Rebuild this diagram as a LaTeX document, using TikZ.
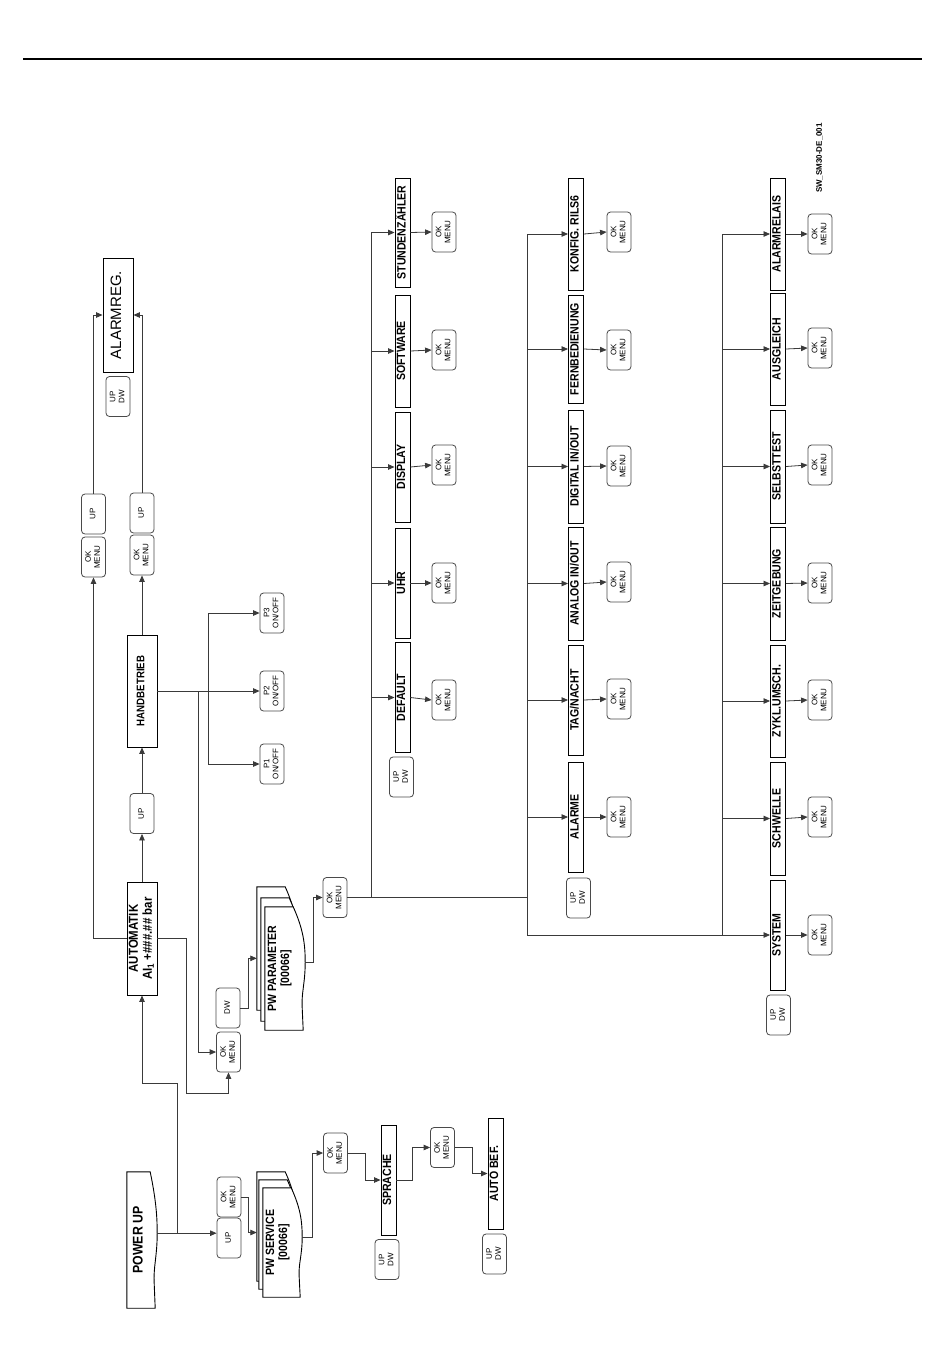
\documentclass[tikz,border=0pt]{standalone}
\usepackage{fontspec}
\setmainfont{Liberation Sans}
\newfontfamily\condfont{Liberation Sans}[FakeStretch=0.88]
\usepackage{tikz}
\usetikzlibrary{positioning,arrows.meta,calc,backgrounds}
\definecolor{cLine}{HTML}{3A3A3A}
\definecolor{cKey}{HTML}{4A4A4A}
\newcommand\rt[1]{\rotatebox{90}{\begin{tabular}{@{}c@{}}#1\end{tabular}}}
% Dokument-Form: rechte Kante gewellt, #1 Knoten, #2 Auswoelbung
\newcommand\docpath[2]{%
  \path[doc-line] (#1.north west) -- ($(#1.north east)+(-2,0)$)
    .. controls ($(#1.north east)!0.18!(#1.south east)+(#2-2,0)$) and ($(#1.north east)!0.3!(#1.south east)+(#2,0)$)
    .. ($(#1.north east)!0.45!(#1.south east)+(#2,0)$) coordinate (#1-out)
    .. controls ($(#1.north east)!0.62!(#1.south east)+(#2,0)$) and ($(#1.north east)!0.7!(#1.south east)+(#2-4,0)$)
    .. ($(#1.north east)!0.82!(#1.south east)+(#2-3,0)$)
    -- ($(#1.south east)+(#2-2,0)$) -- (#1.south west) -- cycle;}
% Einzelblatt hinter dem Text
\newcommand\docsingle[2]{%
  \begin{scope}[on background layer]\docpath{#1}{#2}\end{scope}}
% Stapel aus drei Blaettern
\newcommand\docstack[4]{%
  \begin{scope}[on background layer]
    \begin{scope}[transform canvas={shift={(#4)}}]\docpath{#1}{#2}\end{scope}
    \begin{scope}[transform canvas={shift={(#3)}}]\docpath{#1}{#2}\end{scope}
    \docpath{#1}{#2}
  \end{scope}}
\tikzset{
  node-menu/.style={draw=black,line width=0.9pt,minimum width=15pt,
    minimum height=110pt,inner sep=0pt,
    font=\condfont\bfseries\fontsize{12}{13}\selectfont},
  node-big/.style={node-menu,minimum width=30pt,minimum height=112pt},
  node-key/.style={draw=cKey,line width=0.8pt,rounded corners=3.5pt,
    minimum width=24pt,minimum height=40pt,inner sep=0pt,
    font=\fontsize{8}{9}\selectfont},
  node-doc/.style={inner sep=0pt,
    font=\condfont\bfseries\fontsize{12}{13}\selectfont},
  node-id/.style={inner sep=0pt,font=\bfseries\fontsize{8}{9}\selectfont},
  arrow/.style={-{Triangle[length=6.5pt,width=5.5pt]},line width=0.8pt,draw=cLine},
  link/.style={line width=0.8pt,draw=cLine},
  doc-line/.style={draw=black,line width=0.9pt,fill=white},
}

\begin{document}
\begin{tikzpicture}[x=1pt,y=-1pt]
  \useasboundingbox (0,0) rectangle (950,1369);
  \draw[line width=1.3pt] (23,59) -- (922,59);
  \node[node-id] (docid) at (820,158) {\rt{SW\_SM30-DE\_001}};

  % Einschalten
  \node[node-doc,minimum width=25pt,minimum height=136pt,
    font=\condfont\bfseries\fontsize{14}{15}\selectfont] (pwup) at (139.5,1240) {\rt{POWER UP}};
  \docsingle{pwup}{5}
  \node[node-key] (okPow) at (229,1197) {\rt{OK\\MENU}};
  \node[node-key] (upPow) at (229,1238) {\rt{UP}};
  \node[node-doc,minimum width=30pt,minimum height=109pt] (pwserv) at (278,1242.5) {\rt{PW SERVICE\\{[00066]}}};
  \docstack{pwserv}{9}{-4,-8}{-6,-16}
  \node[node-key] (okServ) at (335.5,1153) {\rt{OK\\MENU}};
  \node[node-menu] (sprache) at (388.5,1180) {\rt{SPRACHE}};
  \node[node-key] (udSpr) at (387,1259.5) {\rt{UP\\DW}};
  \node[node-key] (okSpr) at (442.5,1147.5) {\rt{OK\\MENU}};
  \node[node-menu,minimum height=111pt] (autobef) at (495.5,1173.5) {\rt{AUTO BEF.}};
  \node[node-key] (udAuto) at (494.5,1254) {\rt{UP\\DW}};

  % Automatik / Handbetrieb / Alarmreg.
  \node[node-big,minimum height=113pt,
    font=\condfont\bfseries\fontsize{13}{14}\selectfont] (automatik) at (142,938.5) {\rt{AUTOMATIK\\AI\textsubscript{1} +\#\#\#.\#\# bar}};
  \node[node-key] (upHand) at (142,813.5) {\rt{UP}};
  \node[node-big,font=\condfont\bfseries\fontsize{11}{12}\selectfont] (handbetr) at (142,691) {\rt{HANDBETRIEB}};
  \node[node-key] (okAlA) at (93.5,557) {\rt{OK\\MENU}};
  \node[node-key] (upAlA) at (93.5,514) {\rt{UP}};
  \node[node-key] (okAlB) at (142,555) {\rt{OK\\MENU}};
  \node[node-key] (upAlB) at (142,513) {\rt{UP}};
  \node[node-key] (udAlarm) at (118,396.5) {\rt{UP\\DW}};
  \node[node-big,minimum height=114pt,font=\fontsize{15}{16}\selectfont] (alarmreg) at (118,315) {\rt{ALARMREG.}};
  \node[node-key] (pOne) at (272,764) {\rt{P1\\ON/OFF}};
  \node[node-key] (pTwo) at (272,691) {\rt{P2\\ON/OFF}};
  \node[node-key] (pThree) at (272,613) {\rt{P3\\ON/OFF}};

  % Parameter
  \node[node-key] (dwPar) at (228,1008) {\rt{DW}};
  \node[node-key] (okPar) at (228.5,1052) {\rt{OK\\MENU}};
  \node[node-doc,minimum width=30pt,minimum height=123pt] (pwpar) at (280,968.5) {\rt{PW PARAMETER\\{[00066]}}};
  \docstack{pwpar}{10}{-4,-9}{-8,-20}
  \node[node-key] (okParam) at (335,897.5) {\rt{OK\\MENU}};

  % Spalte 1
  \node[node-menu,minimum height=109pt] (stu) at (402.5,232.5) {\rt{STUNDENZ\"AHLER}};
  \node[node-menu,minimum height=112pt] (soft) at (402.5,351) {\rt{SOFTWARE}};
  \node[node-menu] (disp) at (402.5,467) {\rt{DISPLAY}};
  \node[node-menu] (uhr) at (402.5,583) {\rt{UHR}};
  \node[node-menu] (defl) at (402.5,697.5) {\rt{DEFAULT}};
  \node[node-key] (udCol1) at (401.5,777) {\rt{UP\\DW}};
  \node[node-key] (okStu) at (444,232) {\rt{OK\\MENU}};
  \node[node-key] (okSoft) at (444,350) {\rt{OK\\MENU}};
  \node[node-key] (okDisp) at (444,465) {\rt{OK\\MENU}};
  \node[node-key] (okUhr) at (444,583) {\rt{OK\\MENU}};
  \node[node-key] (okDefl) at (444,700) {\rt{OK\\MENU}};

  % Spalte 2
  \node[node-menu,minimum height=112pt] (konf) at (576,234) {\rt{KONFIG. RILS6}};
  \node[node-menu,minimum height=108pt] (fern) at (576,349) {\rt{FERNBEDIENUNG}};
  \node[node-menu,minimum height=113pt] (digi) at (576,466.5) {\rt{DIGITAL IN/OUT}};
  \node[node-menu,minimum height=113pt] (ana) at (576,583.5) {\rt{ANALOG IN/OUT}};
  \node[node-menu] (tag) at (576,700) {\rt{TAG/NACHT}};
  \node[node-menu] (alm) at (576,817) {\rt{ALARME}};
  \node[node-key] (udCol2) at (578.5,898) {\rt{UP\\DW}};
  \node[node-key] (okKonf) at (619,232) {\rt{OK\\MENU}};
  \node[node-key] (okFern) at (619,350) {\rt{OK\\MENU}};
  \node[node-key] (okDigi) at (619,466) {\rt{OK\\MENU}};
  \node[node-key] (okAna) at (619,582) {\rt{OK\\MENU}};
  \node[node-key] (okTag) at (619,699) {\rt{OK\\MENU}};
  \node[node-key] (okAlm) at (619,817) {\rt{OK\\MENU}};

  % Spalte 3
  \node[node-menu,minimum height=112pt] (alrel) at (778,234) {\rt{ALARMRELAIS}};
  \node[node-menu,minimum height=112pt] (ausg) at (778,349) {\rt{AUSGLEICH}};
  \node[node-menu,minimum height=113pt] (selb) at (778,466.5) {\rt{SELBSTTEST}};
  \node[node-menu,minimum height=113pt] (zeit) at (778,583.5) {\rt{ZEITGEBUNG}};
  \node[node-menu,minimum height=112pt] (zykl) at (778,701) {\rt{ZYKL.UMSCH.}};
  \node[node-menu,minimum height=113pt] (schw) at (778,818.5) {\rt{SCHWELLE}};
  \node[node-menu] (sys) at (778,935) {\rt{SYSTEM}};
  \node[node-key] (udCol3) at (778.5,1015) {\rt{UP\\DW}};
  \node[node-key] (okAlrel) at (820,234) {\rt{OK\\MENU}};
  \node[node-key] (okAusg) at (820,348) {\rt{OK\\MENU}};
  \node[node-key] (okSelb) at (820,465) {\rt{OK\\MENU}};
  \node[node-key] (okZeit) at (820,583) {\rt{OK\\MENU}};
  \node[node-key] (okZykl) at (820,700) {\rt{OK\\MENU}};
  \node[node-key] (okSchw) at (820,817) {\rt{OK\\MENU}};
  \node[node-key] (okSys) at (820,935) {\rt{OK\\MENU}};

  % Verbindungen Einschalten
  \draw[arrow] (pwup-out) -- (pwup-out -| upPow.west);
  \draw[arrow] ($(pwup-out)+(20,0)$) -- ++(0,-150) -| (automatik.south);
  \draw[arrow] (okPow.east) -- ++(7,0) |- ([xshift=-6pt,yshift=10pt]pwserv.west);
  \draw[arrow] (pwserv-out) -- ++(10,0) |- (okServ.west);
  \draw[arrow] (okServ.east) -- ++(17,0) |- (sprache.west);
  \draw[arrow] (sprache.east) -- ++(16,0) |- (okSpr.west);
  \draw[arrow] (okSpr.east) -- ++(17,0) |- (autobef.west);

  % Verbindungen Automatik
  \draw[arrow] (automatik.west) -| (okAlA.south);
  \draw[arrow] (automatik.east) -- ++(29,0) -- ++(0,155) -| (okPar.south);
  \draw[arrow] (automatik.north) -- (upHand.south);
  \draw[arrow] (upHand.north) -- (handbetr.south);
  \draw[arrow] (handbetr.north) -- (okAlB.south);
  \draw[arrow] (upAlA.north) |- (alarmreg.west);
  \draw[arrow] (upAlB.north) |- (alarmreg.east);
  \draw[arrow] (handbetr.east) -- (pTwo.west);
  \draw[arrow] ($(handbetr.east)+(51,0)$) |- (pOne.west);
  \draw[arrow] ($(handbetr.east)+(51,0)$) |- (pThree.west);
  \draw[arrow] ($(handbetr.east)+(41,0)$) |- (okPar.west);

  % Verbindungen Parameter
  \draw[arrow] (dwPar.east) -- ++(8,0) |- ($(pwpar.west |- pwpar-out)+(-8,-4)$);
  \draw[arrow] (pwpar-out) -- ++(8,0) |- (okParam.west);
  \draw[link] (okParam.east) -- ++(180,0) coordinate (c2j);
  \coordinate (c1j) at ($(okParam.east)+(24,0)$);
  \coordinate (c3j) at ($(sys.west)+(-48,0)$);

  \draw[arrow] (c1j) |- (stu.west);
  \draw[arrow] (c1j |- soft.west) -- (soft.west);
  \draw[arrow] (c1j |- disp.west) -- (disp.west);
  \draw[arrow] (c1j |- uhr.west) -- (uhr.west);
  \draw[arrow] (c1j |- defl.west) -- (defl.west);

  \draw[arrow] (c2j) |- (konf.west);
  \draw[arrow] (c2j |- fern.west) -- (fern.west);
  \draw[arrow] (c2j |- digi.west) -- (digi.west);
  \draw[arrow] (c2j |- ana.west) -- (ana.west);
  \draw[arrow] (c2j |- tag.west) -- (tag.west);
  \draw[arrow] (c2j |- alm.west) -- (alm.west);
  \draw[arrow] (c2j) |- (sys.west);

  \draw[arrow] (c3j) |- (alrel.west);
  \draw[arrow] (c3j |- ausg.west) -- (ausg.west);
  \draw[arrow] (c3j |- selb.west) -- (selb.west);
  \draw[arrow] (c3j |- zeit.west) -- (zeit.west);
  \draw[arrow] (c3j |- zykl.west) -- (zykl.west);
  \draw[arrow] (c3j |- schw.west) -- (schw.west);

  \draw[arrow] (stu.east) -- (okStu.west);
  \draw[arrow] (soft.east) -- (okSoft.west);
  \draw[arrow] (disp.east) -- (okDisp.west);
  \draw[arrow] (uhr.east) -- (okUhr.west);
  \draw[arrow] (defl.east) -- (okDefl.west);
  \draw[arrow] (konf.east) -- (okKonf.west);
  \draw[arrow] (fern.east) -- (okFern.west);
  \draw[arrow] (digi.east) -- (okDigi.west);
  \draw[arrow] (ana.east) -- (okAna.west);
  \draw[arrow] (tag.east) -- (okTag.west);
  \draw[arrow] (alm.east) -- (okAlm.west);
  \draw[arrow] (alrel.east) -- (okAlrel.west);
  \draw[arrow] (ausg.east) -- (okAusg.west);
  \draw[arrow] (selb.east) -- (okSelb.west);
  \draw[arrow] (zeit.east) -- (okZeit.west);
  \draw[arrow] (zykl.east) -- (okZykl.west);
  \draw[arrow] (schw.east) -- (okSchw.west);
  \draw[arrow] (sys.east) -- (okSys.west);
\end{tikzpicture}
\end{document}
